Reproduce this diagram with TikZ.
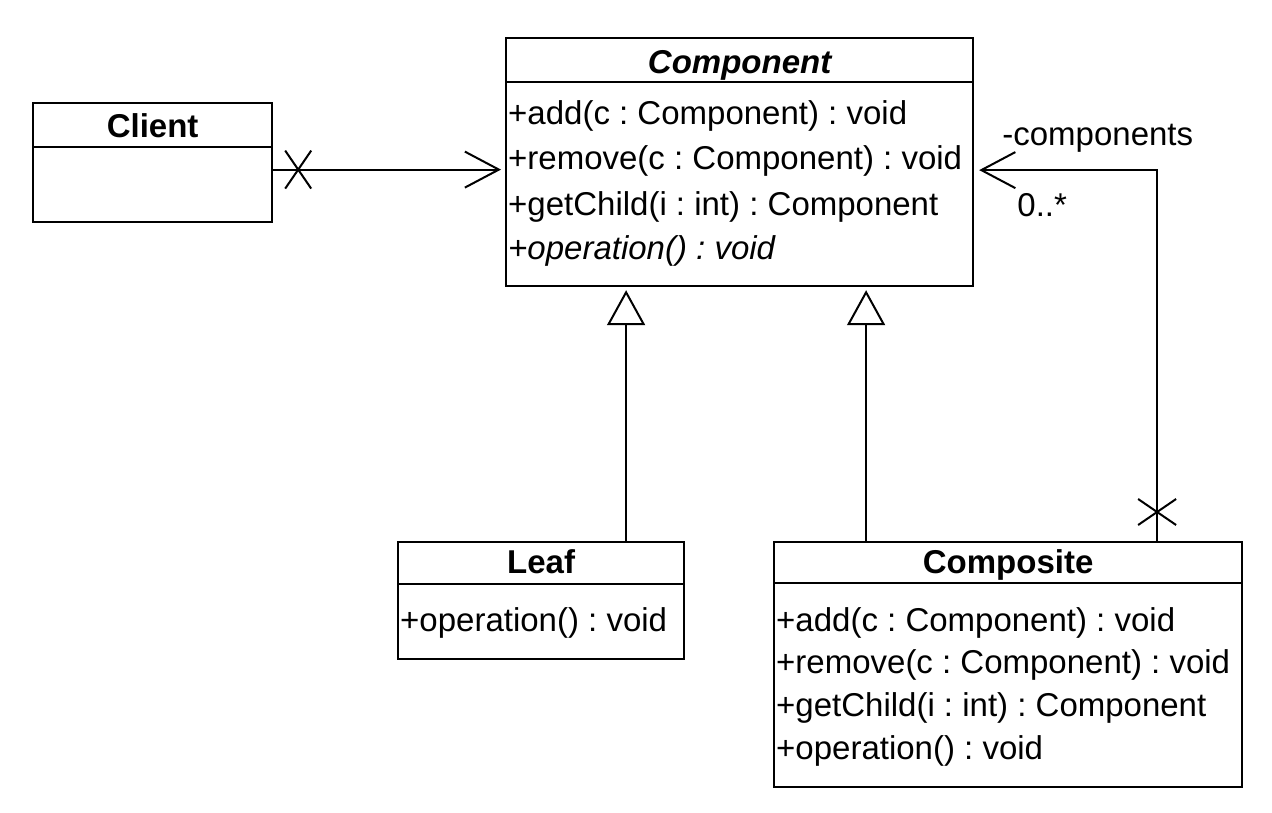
\documentclass[tikz,border=0pt]{standalone}
\usepackage{fontspec}
\setmainfont{Liberation Sans}
\usetikzlibrary{positioning,arrows.meta,shapes.misc}
\frenchspacing

\begin{document}
\begin{tikzpicture}[
    x=1pt, y=-1pt,
    font=\fontsize{33}{40}\selectfont,
    classbox/.style={draw, line width=2.2pt, anchor=north west, inner sep=0pt},
    title/.style={font=\fontsize{33}{40}\selectfont\bfseries, anchor=base, inner sep=0pt},
    member/.style={anchor=base west, inner sep=0pt},
    headline/.style={line width=2.2pt},
    assoc/.style={
      line width=2pt,
      -{Straight Barb[length=34pt, width=36pt, line width=2pt]},
      shorten >=4pt
    },
    gen/.style={
      line width=2pt,
      -{Triangle[open, length=35pt, width=38pt, line width=2pt]},
      shorten >=3pt
    },
    navx/.style={cross out, draw, line width=2pt, inner sep=0pt},
    rolelabel/.style={anchor=base west, inner sep=0pt}
  ]
  \useasboundingbox (0,0) rectangle (1272,812);

  % the four classes at explicit coords
  \node[classbox, minimum width=239pt, minimum height=119pt] (client) at (32,102) {};
  \node[classbox, minimum width=467pt, minimum height=248pt] (comp) at (505,37) {};
  \node[classbox, minimum width=286pt, minimum height=117pt] (leaf) at (397,541) {};
  \node[classbox, minimum width=468pt, minimum height=245pt] (composite) at (773,541) {};

  % name compartments
  \draw[headline] ([yshift=-45pt]client.north west) -- ([yshift=-45pt]client.north east);
  \draw[headline] ([yshift=-45pt]comp.north west) -- ([yshift=-45pt]comp.north east);
  \draw[headline] ([yshift=-43pt]leaf.north west) -- ([yshift=-43pt]leaf.north east);
  \draw[headline] ([yshift=-42pt]composite.north west) -- ([yshift=-42pt]composite.north east);

  \node[title] (clientname) at ([yshift=-35pt]client.north) {Client};
  \node[title] (compname) at ([yshift=-36pt]comp.north) {\itshape Component};
  \node[title] (leafname) at ([yshift=-32pt]leaf.north) {Leaf};
  \node[title] (compositename) at ([yshift=-32pt]composite.north) {Composite};

  % Component operations
  \node[member] (compadd) at ([xshift=3pt, yshift=-87pt]comp.north west) {+add(c : Component) : void};
  \node[member] (compremove) at ([xshift=3pt, yshift=-132pt]comp.north west) {+remove(c : Component) : void};
  \node[member] (compchild) at ([xshift=3pt, yshift=-178pt]comp.north west) {+getChild(i : int) : Component};
  \node[member] (compop) at ([xshift=3pt, yshift=-222pt]comp.north west) {\itshape +operation() : void};

  % Leaf operations
  \node[member] (leafop) at ([xshift=3pt, yshift=-90pt]leaf.north west) {+operation() : void};

  % Composite operations
  \node[member] (compositeadd) at ([xshift=3pt, yshift=-90pt]composite.north west) {+add(c : Component) : void};
  \node[member] (compositeremove) at ([xshift=3pt, yshift=-132pt]composite.north west) {+remove(c : Component) : void};
  \node[member] (compositechild) at ([xshift=3pt, yshift=-175pt]composite.north west) {+getChild(i : int) : Component};
  \node[member] (compositeop) at ([xshift=3pt, yshift=-218pt]composite.north west) {+operation() : void};

  % Client -> Component
  \coordinate (clientout) at ([yshift=-7pt]client.east);
  \draw[assoc] (clientout) -- (clientout -| comp.west);
  \node[navx, minimum width=24pt, minimum height=36pt] (clientx) at ([xshift=25pt]clientout) {};

  % Composite -> Component (children)
  \coordinate (compositeout) at ([xshift=149pt]composite.north);
  \coordinate (compin) at ([yshift=-8pt]comp.east);
  \draw[assoc, shorten >=5pt] (compositeout) |- (compin);
  \node[navx, minimum width=36pt, minimum height=24pt] (compositex) at ([yshift=29pt]compositeout) {};
  \node[rolelabel] (rolename) at ([xshift=28pt, yshift=25pt]compin) {-components};
  \node[rolelabel] (multiplicity) at ([xshift=43pt, yshift=-46pt]compin) {0..*};

  % generalizations
  \coordinate (leafup) at ([xshift=85pt]leaf.north);
  \coordinate (compositeup) at ([xshift=-142pt]composite.north);
  \draw[gen] (leafup) -- (leafup |- comp.south);
  \draw[gen] (compositeup) -- (compositeup |- comp.south);

\end{tikzpicture}
\end{document}
